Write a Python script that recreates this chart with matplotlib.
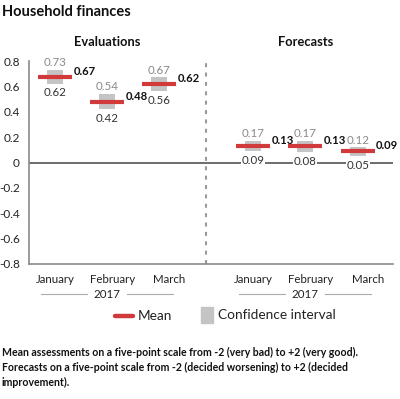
import matplotlib
matplotlib.use("Agg")
import matplotlib.pyplot as plt
from matplotlib.transforms import blended_transform_factory
from matplotlib.lines import Line2D
from matplotlib.patches import Rectangle

plt.rcParams['font.family'] = ['Lato', 'DejaVu Sans']

# ---- data ----
months = ["January", "February", "March"]
year_label = "2017"
groups = ["Evaluations", "Forecasts"]
eval_mean = [0.67, 0.48, 0.62]
eval_high = [0.73, 0.54, 0.67]
eval_low = [0.62, 0.42, 0.56]
fc_mean = [0.13, 0.13, 0.09]
fc_high = [0.17, 0.17, 0.12]
fc_low = [0.09, 0.08, 0.05]
yticks = [-0.8, -0.6, -0.4, -0.2, 0, 0.2, 0.4, 0.6, 0.8]
title = "Household finances"
legend_mean = "Mean"
legend_ci = "Confidence interval"
footnote = ("Mean assessments on a five-point scale from -2 (very bad) to +2 (very good).\n"
            "Forecasts on a five-point scale from -2 (decided worsening) to +2 (decided\n"
            "improvement).")

# ---- layout ----
W, H = 400, 399
fig = plt.figure(figsize=(W / 100, H / 100), dpi=100)
ax = fig.add_axes([29 / W, 1 - 264 / H, 364 / W, 203 / H])

def fy(px):
    return 1 - px / H

def fx(px):
    return px / W

RED = "#d13a3a"
BOX = "#c4c4c4"
group_x = [[0, 1, 2], [3.81, 4.81, 5.82]]
label_shift = [0.0, 0.1, 0.2]
bar_w = 0.65
box_w = 0.31
VFS = 8.3

series = [(eval_mean, eval_high, eval_low), (fc_mean, fc_high, fc_low)]
for xs, (m, hi, lo) in zip(group_x, series):
    heights = [h - l for h, l in zip(hi, lo)]
    ax.bar(xs, heights, bottom=lo, width=box_w, color=BOX, zorder=2)
    ax.hlines(m, [x - bar_w / 2 for x in xs], [x + bar_w / 2 for x in xs],
              color=RED, lw=3, zorder=3)
    for x, mv, hv, lv in zip(xs, m, hi, lo):
        ax.annotate(f"{hv:.2f}", (x, hv), xytext=(0, 1.2), textcoords="offset points",
                    ha="center", va="bottom", color="#8a8a8a", fontsize=VFS, zorder=4)
        ax.annotate(f"{lv:.2f}", (x, lv), xytext=(0, -2.5), textcoords="offset points",
                    ha="center", va="top", color="#333333", fontsize=VFS, zorder=4,
                    bbox=dict(facecolor="white", edgecolor="none", pad=0.3))
        ax.annotate(f"{mv:.2f}", (x + bar_w / 2, mv), xytext=(1, 0), textcoords="offset points",
                    ha="left", va="bottom", color="#111111", fontsize=8.1,
                    fontweight="bold", zorder=5)

ax.set_xlim(-0.5, 6.5)
ax.set_ylim(-0.8, 0.8)
ax.set_yticks(yticks)
ax.set_yticklabels([f"{v:g}" for v in yticks], fontsize=8.5, color="#222222")
ax.set_xticks([])
ax.tick_params(axis="y", length=0, pad=6.5)
for s in ["top", "right"]:
    ax.spines[s].set_visible(False)
for s in ["left", "bottom"]:
    ax.spines[s].set_color("#8a8a8a")
    ax.spines[s].set_linewidth(1.2)
ax.axhline(0, color="#444444", lw=1.1, zorder=1)
ax.axvline(2.9, color="#999999", lw=1.5, ls=(0, (1.9, 2.6)), zorder=1)

bt = blended_transform_factory(ax.transData, fig.transFigure)
for xs, g in zip(group_x, groups):
    cx = sum(xs) / len(xs)
    ax.text(cx, fy(42), g, transform=bt, ha="center", va="center",
            fontsize=9.3, fontweight="bold", color="#111111")
    for x, mname, sh in zip(xs, months, label_shift):
        ax.text(x + sh, fy(283), mname, transform=bt, ha="center", va="baseline",
                fontsize=8.3, color="#222222")
    ax.text(cx, fy(294), year_label, transform=bt, ha="center", va="center",
            fontsize=8.3, color="#222222")
    cpx = ax.transData.transform((cx, 0))[0]
    for a, b in [(-66, -20), (20, 66)]:
        fig.add_artist(Line2D([fx(cpx + a), fx(cpx + b)], [fy(294), fy(294)],
                              color="#aaaaaa", lw=0.8))

# title
fig.text(fx(2), fy(12), title, ha="left", va="center", fontsize=10.5,
         fontweight="bold", color="#111111")

# legend
fig.add_artist(Line2D([fx(115), fx(133)], [fy(316), fy(316)], color=RED, lw=3.2,
                      solid_capstyle="round"))
fig.text(fx(138), fy(316), legend_mean, ha="left", va="center", fontsize=9.8, color="#222222")
fig.add_artist(Rectangle((fx(201), fy(323)), 12 / W, 16 / H, transform=fig.transFigure,
                         color=BOX))
fig.text(fx(218), fy(315), legend_ci, ha="left", va="center", fontsize=9.8, color="#222222")

# footnote
fig.text(fx(2), fy(346.5), footnote, ha="left", va="top", fontsize=7.6,
         fontweight="bold", color="#111111", linespacing=1.45)

fig.savefig("out.png", dpi=100)
